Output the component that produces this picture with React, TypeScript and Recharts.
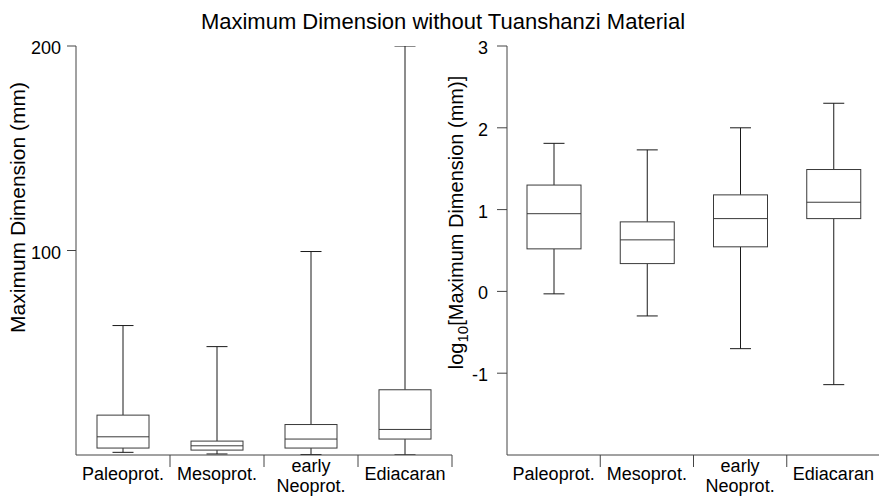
import React from 'react';
import { ComposedChart, Bar, XAxis, YAxis } from 'recharts';

const FONT = '"Liberation Sans", Arial, Helvetica, sans-serif';

const categories = ['Paleoprot.', 'Mesoprot.', 'early\nNeoprot.', 'Ediacaran'];

// Linear panel (mm)
const linMin = [1.3, 0.5, 0.2, 0.08];
const linQ1 = [3.4, 2.4, 3.4, 7.8];
const linMed = [8.9, 4.5, 7.8, 12.5];
const linQ3 = [19.5, 6.8, 14.9, 31.9];
const linMax = [63.3, 53.0, 99.5, 200];
const linTicks = [100, 200];

// Log10 panel
const logMin = [-0.03, -0.3, -0.7, -1.14];
const logQ1 = [0.52, 0.34, 0.545, 0.89];
const logMed = [0.95, 0.63, 0.89, 1.09];
const logQ3 = [1.3, 0.85, 1.18, 1.49];
const logMax = [1.81, 1.73, 2.0, 2.3];
const logTicks = [-1, 0, 1, 2, 3];

const build = (mn: number[], q1: number[], md: number[], q3: number[], mx: number[]) =>
  categories.map((name, i) => ({
    name,
    min: mn[i],
    q1: q1[i],
    med: md[i],
    q3: q3[i],
    max: mx[i],
    range: [mn[i], mx[i]],
  }));

const linData = build(linMin, linQ1, linMed, linQ3, linMax);
const logData = build(logMin, logQ1, logMed, logQ3, logMax);

const BoxShape = (props: any) => {
  const { x, y, width, height, payload } = props;
  if (x == null || y == null || !payload) return null;
  const top = Math.min(y, y + height);
  const bottom = Math.max(y, y + height);
  const span = payload.max - payload.min;
  const py = (v: number) => top + ((payload.max - v) / span) * (bottom - top);
  const cx = x + width / 2;
  const cap = 10.5;
  const wc = '#1a1a1a';
  const bc = '#3a3a3a';
  return (
    <g>
      <line x1={cx} x2={cx} y1={py(payload.max)} y2={py(payload.q3)} stroke={wc} strokeWidth={1} />
      <line x1={cx} x2={cx} y1={py(payload.q1)} y2={py(payload.min)} stroke={wc} strokeWidth={1} />
      <line x1={cx - cap} x2={cx + cap} y1={py(payload.max)} y2={py(payload.max)} stroke={wc} strokeWidth={1} />
      <line x1={cx - cap} x2={cx + cap} y1={py(payload.min)} y2={py(payload.min)} stroke={wc} strokeWidth={1} />
      <rect
        x={x}
        y={py(payload.q3)}
        width={width}
        height={py(payload.q1) - py(payload.q3)}
        fill="#fff"
        stroke={bc}
        strokeWidth={1}
      />
      <line x1={x} x2={x + width} y1={py(payload.med)} y2={py(payload.med)} stroke={bc} strokeWidth={1} />
    </g>
  );
};

const makeXTick = (bandHalf: number) => (props: any) => {
  const { x, y, payload } = props;
  const half = payload && payload.offset ? payload.offset : bandHalf;
  const lines = String(payload.value).split('\n');
  return (
    <g>
      <line x1={x + half} x2={x + half} y1={y} y2={y + 12} stroke="#444" strokeWidth={1} />
      {lines.length === 1 ? (
        <text x={x} y={y + 25} textAnchor="middle" fontSize={18} fontFamily={FONT} fill="#000">
          {lines[0]}
        </text>
      ) : (
        <text x={x} textAnchor="middle" fontSize={18} fontFamily={FONT} fill="#000">
          <tspan x={x} y={y + 17}>{lines[0]}</tspan>
          <tspan x={x} y={y + 37}>{lines[1]}</tspan>
        </text>
      )}
    </g>
  );
};

const makeYTick = (props: any) => {
  const { x, y, payload, textAnchor } = props;
  return (
    <text x={x} y={y + 8} textAnchor={textAnchor || 'end'} fontSize={18} fontFamily={FONT} fill="#000">
      {payload.value}
    </text>
  );
};

const YLabelLin = (props: any) => {
  const vb = props.viewBox || { x: 0, y: 46, width: 76, height: 409 };
  const cx = vb.x + 25;
  const cy = vb.y + vb.height / 2 - 43;
  return (
    <text
      x={cx}
      y={cy}
      transform={`rotate(-90, ${cx}, ${cy})`}
      textAnchor="middle"
      fontSize={21}
      fontFamily={FONT}
      fill="#000"
    >
      Maximum Dimension (mm)
    </text>
  );
};

const YLabelLog = (props: any) => {
  const vb = props.viewBox || { x: 0, y: 46, width: 76, height: 409 };
  const cx = vb.x + 32;
  const cy = vb.y + vb.height / 2 - 28;
  return (
    <text
      x={cx}
      y={cy}
      transform={`rotate(-90, ${cx}, ${cy})`}
      textAnchor="middle"
      fontSize={20}
      fontFamily={FONT}
      fill="#000"
    >
      log
      <tspan fontSize={15} dy={5}>10</tspan>
      <tspan dy={-5}>[Maximum Dimension (mm)]</tspan>
    </text>
  );
};

export default function App() {
  return (
    <div
      style={{
        position: 'absolute',
        left: 0,
        top: 0,
        width: 879,
        height: 497,
        overflow: 'hidden',
        background: '#fff',
      }}
    >
      <svg
        width={879}
        height={40}
        style={{ position: 'absolute', left: 0, top: 0, pointerEvents: 'none' }}
      >
        <text x={443} y={29} textAnchor="middle" fontSize={22} fontFamily={FONT} fill="#000">
          Maximum Dimension without Tuanshanzi Material
        </text>
      </svg>

      <div style={{ position: 'absolute', left: 0, top: 0 }}>
        <ComposedChart width={470} height={497} data={linData} margin={{ top: 46, right: 18, bottom: 0, left: 0 }}>
          <XAxis
            dataKey="name"
            type="category"
            height={42}
            tickLine={false}
            tickSize={0}
            tickMargin={0}
            interval={0}
            axisLine={{ stroke: '#444' }}
            tick={makeXTick(47)}
          />
          <YAxis
            type="number"
            domain={[0, 200]}
            ticks={linTicks}
            width={76}
            tickSize={9}
            tickMargin={6}
            allowDataOverflow
            axisLine={{ stroke: '#444' }}
            tickLine={{ stroke: '#444' }}
            tick={makeYTick}
            label={<YLabelLin />}
          />
          <Bar dataKey="range" barSize={52} shape={<BoxShape />} isAnimationActive={false} />
        </ComposedChart>
      </div>

      <div style={{ position: 'absolute', left: 431, top: 0 }}>
        <ComposedChart width={449} height={497} data={logData} margin={{ top: 46, right: 0, bottom: 0, left: 0 }}>
          <XAxis
            dataKey="name"
            type="category"
            height={42}
            tickLine={false}
            tickSize={0}
            tickMargin={0}
            interval={0}
            axisLine={{ stroke: '#444' }}
            tick={makeXTick(46.6)}
          />
          <YAxis
            type="number"
            domain={[-2, 3]}
            ticks={logTicks}
            width={76}
            tickSize={10}
            tickMargin={9}
            allowDataOverflow
            axisLine={{ stroke: '#444' }}
            tickLine={{ stroke: '#444' }}
            tick={makeYTick}
            label={<YLabelLog />}
          />
          <Bar dataKey="range" barSize={54} shape={<BoxShape />} isAnimationActive={false} />
        </ComposedChart>
      </div>
    </div>
  );
}
